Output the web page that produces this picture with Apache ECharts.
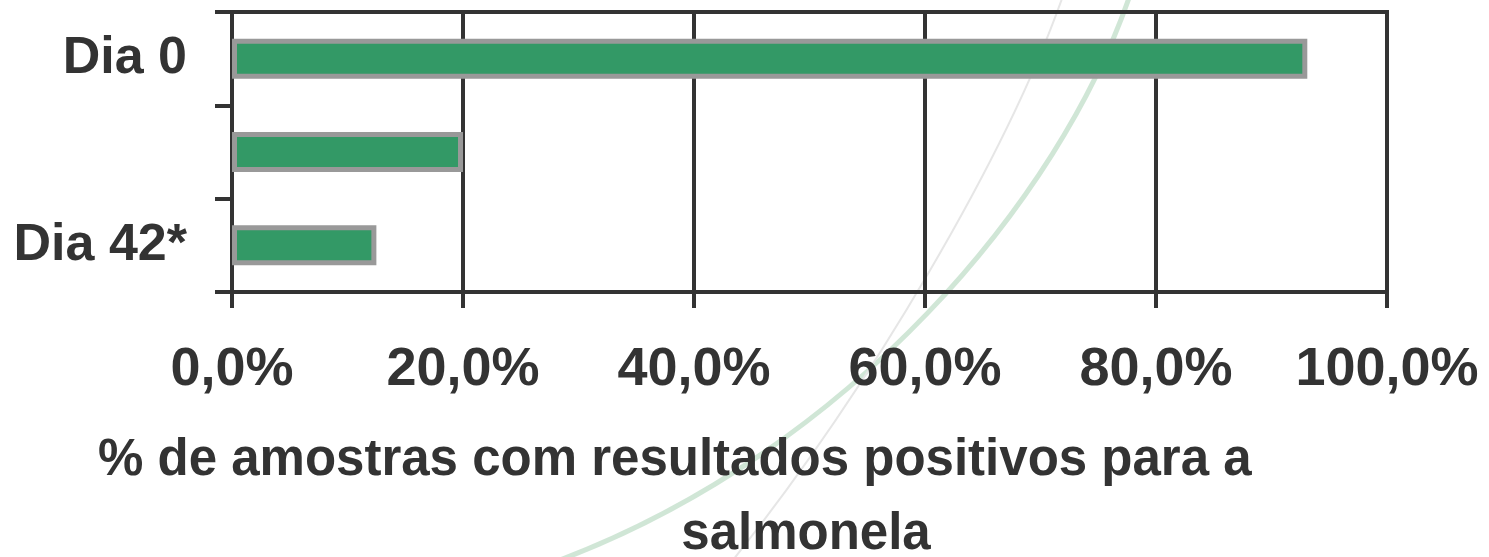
<!DOCTYPE html>
<html>
<head>
<meta charset="utf-8">
<script src="https://cdn.jsdelivr.net/npm/echarts@6/dist/echarts.min.js"></script>
<style>html,body{margin:0;padding:0;background:#fff}#c{width:1489px;height:557px}</style>
</head>
<body>
<div id="c"></div>
<script>
const categories = ['Dia 0', '', 'Dia 42*'];
const values = [93.1, 20.0, 12.5];
const xTicks = [0, 20, 40, 60, 80, 100];
const axisTitleLine1 = '% de amostras com resultados positivos para a';
const axisTitleLine2 = 'salmonela';

const FONT = '"Liberation Sans", Arial, sans-serif';
const chart = echarts.init(document.getElementById('c'), null, {renderer: 'canvas'});
chart.setOption({
  animation: false,
  backgroundColor: '#fff',
  grid: {left: 232, right: 102, top: 12, bottom: 265, show: true, borderColor: '#333', borderWidth: 4, backgroundColor: 'transparent'},
  xAxis: {
    type: 'value', min: xTicks[0], max: xTicks[xTicks.length - 1], interval: 20,
    axisLine: {show: true, lineStyle: {color: '#333', width: 4}},
    axisTick: {show: true, length: 16, lineStyle: {color: '#333', width: 4}},
    splitLine: {show: true, lineStyle: {color: '#333', width: 4}},
    axisLabel: {
      margin: 51, fontSize: 54, fontWeight: 'bold', color: '#333', fontFamily: FONT,
      formatter: v => v.toFixed(1).replace('.', ',') + '%'
    }
  },
  yAxis: {
    type: 'category', data: categories, inverse: true,
    axisLine: {show: true, lineStyle: {color: '#333', width: 4}},
    axisTick: {show: true, length: 17, lineStyle: {color: '#333', width: 4}},
    axisLabel: {margin: 45, fontSize: 52, fontWeight: 'bold', color: '#333', fontFamily: FONT}
  },
  series: [{
    type: 'bar', data: values, barWidth: 40, z: 3,
    itemStyle: {color: '#339966', borderColor: '#999999', borderWidth: 5}
  }],
  graphic: [
    {type: 'bezierCurve', z: -10, silent: true,
     shape: {x1: 1130, y1: -5, cpx1: 1060, cpy1: 200, cpx2: 850, cpy2: 450, x2: 560, y2: 560},
     style: {stroke: 'rgba(150,200,165,0.45)', lineWidth: 5, fill: null}},
    {type: 'bezierCurve', z: -10, silent: true,
     shape: {x1: 1065, y1: -10, cpx1: 1010, cpy1: 150, cpx2: 870, cpy2: 390, x2: 725, y2: 570},
     style: {stroke: '#e6e6e6', lineWidth: 2, fill: null}},
    {type: 'text', left: 98, top: 435, z: 10,
     style: {text: axisTitleLine1, font: 'bold 51px ' + FONT, fill: '#333'}},
    {type: 'text', x: 806, y: 509, z: 10,
     style: {text: axisTitleLine2, font: 'bold 51px ' + FONT, fill: '#333', align: 'center', verticalAlign: 'top'}}
  ]
});
</script>
</body>
</html>
